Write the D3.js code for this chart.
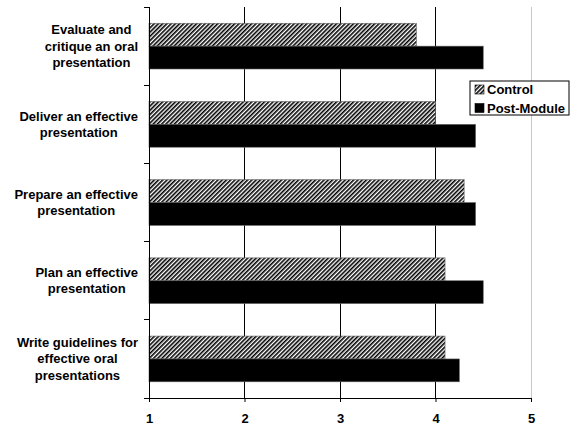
<!DOCTYPE html>
<html>
<head>
<meta charset="utf-8">
<script src="https://cdn.jsdelivr.net/npm/d3@7"></script>
<style>
  body { margin: 0; background: #fff; }
  text { font-family: "Liberation Sans", Arial, sans-serif; font-weight: bold; font-size: 13px; }
</style>
</head>
<body>
<div id="chart"></div>
<script>
var w = 572;
var h = 425;

// categories, top to bottom (each one split into its label lines)
var categories = [
  "Evaluate and critique an oral presentation",
  "Deliver an effective presentation",
  "Prepare an effective presentation",
  "Plan an effective presentation",
  "Write guidelines for effective oral presentations"
];
var categoryLines = [
  ["Evaluate and", "critique an oral", "presentation"],
  ["Deliver an effective", "presentation"],
  ["Prepare an effective", "presentation"],
  ["Plan an effective", "presentation"],
  ["Write guidelines for", "effective oral", "presentations"]
];
var series = ["Control", "Post-Module"];
var controlValues = [3.8, 4.0, 4.3, 4.1, 4.1];
var postValues = [4.5, 4.42, 4.42, 4.5, 4.25];
var xTicks = [1, 2, 3, 4, 5];

var svg = d3.select("#chart")
  .append("svg")
  .attr("width", w)
  .attr("height", h);

// diagonal hatch for the control bars
var defs = svg.append("defs");
var hatch = defs.append("pattern")
  .attr("id", "hatch")
  .attr("patternUnits", "userSpaceOnUse")
  .attr("width", 3)
  .attr("height", 3)
  .attr("patternTransform", "rotate(45)");
hatch.append("rect").attr("width", 3).attr("height", 3).attr("fill", "#fff");
hatch.append("rect").attr("width", 1.6).attr("height", 3).attr("fill", "#000");

var x = d3.scaleLinear().domain([1, 5]).range([149, 531]);
var y = d3.scaleBand().domain(categories).range([7, 398]);
var yInner = d3.scaleBand().domain(series)
  .range([y.bandwidth() * 0.208, y.bandwidth() * 0.793]);

// vertical gridlines
svg.selectAll(".grid")
  .data(xTicks.slice(1))
  .enter()
  .append("line")
  .attr("class", "grid")
  .attr("x1", d => x(d))
  .attr("x2", d => x(d))
  .attr("y1", 7)
  .attr("y2", 398)
  .attr("stroke", d => d === 5 ? "#c8c8c8" : "#000")
  .attr("stroke-width", 1)
  .attr("shape-rendering", "crispEdges");

// bars
var rows = categories.map((c, i) => ({ cat: c, values: [controlValues[i], postValues[i]] }));

var groups = svg.selectAll(".row")
  .data(rows)
  .enter()
  .append("g")
  .attr("class", "row")
  .attr("transform", d => "translate(0," + y(d.cat) + ")");

groups.selectAll("rect")
  .data(d => d.values.map((v, i) => ({ s: series[i], v: v })))
  .enter()
  .append("rect")
  .attr("x", x(1))
  .attr("y", d => yInner(d.s))
  .attr("width", d => x(d.v) - x(1))
  .attr("height", yInner.bandwidth())
  .attr("fill", d => d.s === "Control" ? "url(#hatch)" : "#000")
  .attr("stroke", "#666")
  .attr("stroke-width", 0.6);

// x axis
var xAxis = svg.append("g")
  .attr("transform", "translate(0,398)")
  .call(d3.axisBottom(x).tickValues(xTicks).tickFormat(d3.format("d")).tickSize(4).tickPadding(12));
xAxis.select(".domain").attr("stroke", "#000");
xAxis.selectAll("text").attr("font-size", 13).attr("font-weight", "bold")
  .attr("font-family", "Liberation Sans, Arial, sans-serif");

// y axis: line with ticks between categories
svg.append("line")
  .attr("x1", x(1)).attr("x2", x(1))
  .attr("y1", 7).attr("y2", 398)
  .attr("stroke", "#000")
  .attr("shape-rendering", "crispEdges");

var boundaries = categories.map(c => y(c)).concat([398]);
svg.selectAll(".ytick")
  .data(boundaries)
  .enter()
  .append("line")
  .attr("class", "ytick")
  .attr("x1", x(1) - 5)
  .attr("x2", x(1))
  .attr("y1", d => d)
  .attr("y2", d => d)
  .attr("stroke", "#000")
  .attr("shape-rendering", "crispEdges");

// category labels: each block centred on itself, right edge near the axis
var lineH = 16.5;
var labelRight = 138;
var labels = svg.selectAll(".cat-label")
  .data(categories)
  .enter()
  .append("text")
  .attr("class", "cat-label")
  .attr("text-anchor", "middle")
  .attr("y", (d, i) => y(d) + y.bandwidth() / 2 - (categoryLines[i].length - 1) * lineH / 2 + 4.5);

labels.selectAll("tspan")
  .data((d, i) => categoryLines[i])
  .enter()
  .append("tspan")
  .attr("dy", (d, i) => i === 0 ? 0 : lineH)
  .text(d => d);

labels.each(function () {
  var maxW = 0;
  d3.select(this).selectAll("tspan").each(function () {
    maxW = Math.max(maxW, this.getComputedTextLength());
  });
  d3.select(this).selectAll("tspan").attr("x", labelRight - maxW / 2);
});

// legend
var legend = svg.append("g").attr("transform", "translate(470,81)");
legend.append("rect")
  .attr("width", 99)
  .attr("height", 34)
  .attr("fill", "#fff")
  .attr("stroke", "#000");

var legendItems = legend.selectAll(".legend-item")
  .data(series)
  .enter()
  .append("g")
  .attr("class", "legend-item")
  .attr("transform", (d, i) => "translate(5," + (8.5 + i * 18.5) + ")");

legendItems.append("rect")
  .attr("y", -4.5)
  .attr("width", 9)
  .attr("height", 9)
  .attr("fill", d => d === "Control" ? "url(#hatch)" : "#000")
  .attr("stroke", "#000")
  .attr("stroke-width", 0.6);

legendItems.append("text")
  .attr("x", 12)
  .attr("dy", ".35em")
  .text(d => d);
</script>
</body>
</html>
